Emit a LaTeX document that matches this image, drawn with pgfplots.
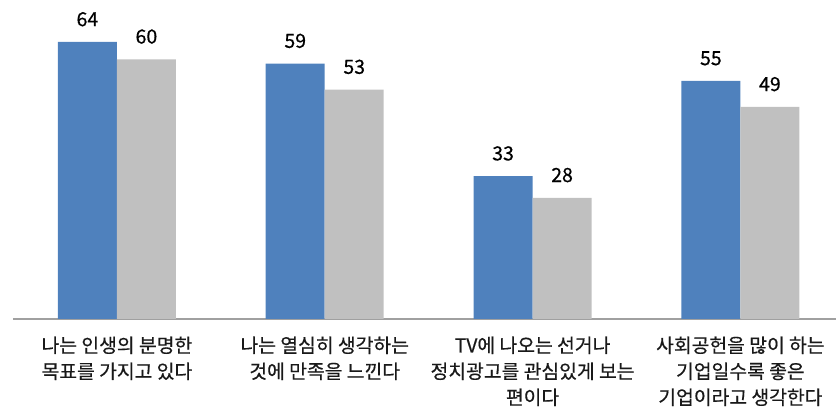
\documentclass[border=0pt]{standalone}
\usepackage{pgfplots}
\pgfplotsset{compat=1.18}
\usepackage{fontspec}
\setmainfont{Noto Sans CJK KR}[FakeBold=0.5]
\newfontfamily\krb{Noto Sans CJK KR}[FakeBold=0.5]
\definecolor{barblue}{HTML}{4F81BD}
\definecolor{bargray}{HTML}{C0C0C0}
\definecolor{axisgray}{HTML}{A0A0A0}
\begin{document}
\begin{tikzpicture}
\begin{axis}[
  at={(0,0)}, anchor=south west,
  scale only axis,
  width=823pt, height=319pt,
  xmin=-0.5, xmax=3.46,
  ymin=0, ymax=73.7,
  ybar=0pt, bar width=59pt,
  axis x line*=bottom,
  axis y line=none,
  x axis line style={draw=axisgray, line width=1.3pt, -},
  xtick={0,1,2,3},
  major tick length=0pt,
  xticklabels={{나는 인생의 분명한\\목표를 가지고 있다},{나는 열심히 생각하는\\것에 만족을 느낀다},{TV에 나오는 선거나\\정치광고를 관심있게 보는\\편이다},{사회공헌을 많이 하는\\기업일수록 좋은\\기업이라고 생각한다}},
  xticklabel style={align=center, font=\krb\fontsize{19.3}{26}\selectfont, text=black!90, yshift=-14pt},
  nodes near coords,
  every node near coord/.append style={font=\krb\fontsize{19.5}{20}\selectfont, text=black, yshift=12pt},
  /pgf/number format/assume math mode=true,
  clip=false,
]
\addplot[fill=barblue, draw=none] coordinates {(0,64) (1,59) (2,33) (3,55)};
\addplot[fill=bargray, draw=none] coordinates {(0,60) (1,53) (2,28) (3,49)};
\end{axis}
\pgfresetboundingbox
\path[use as bounding box] (-13pt,-93pt) rectangle (823pt,319pt);
\end{tikzpicture}
\end{document}
